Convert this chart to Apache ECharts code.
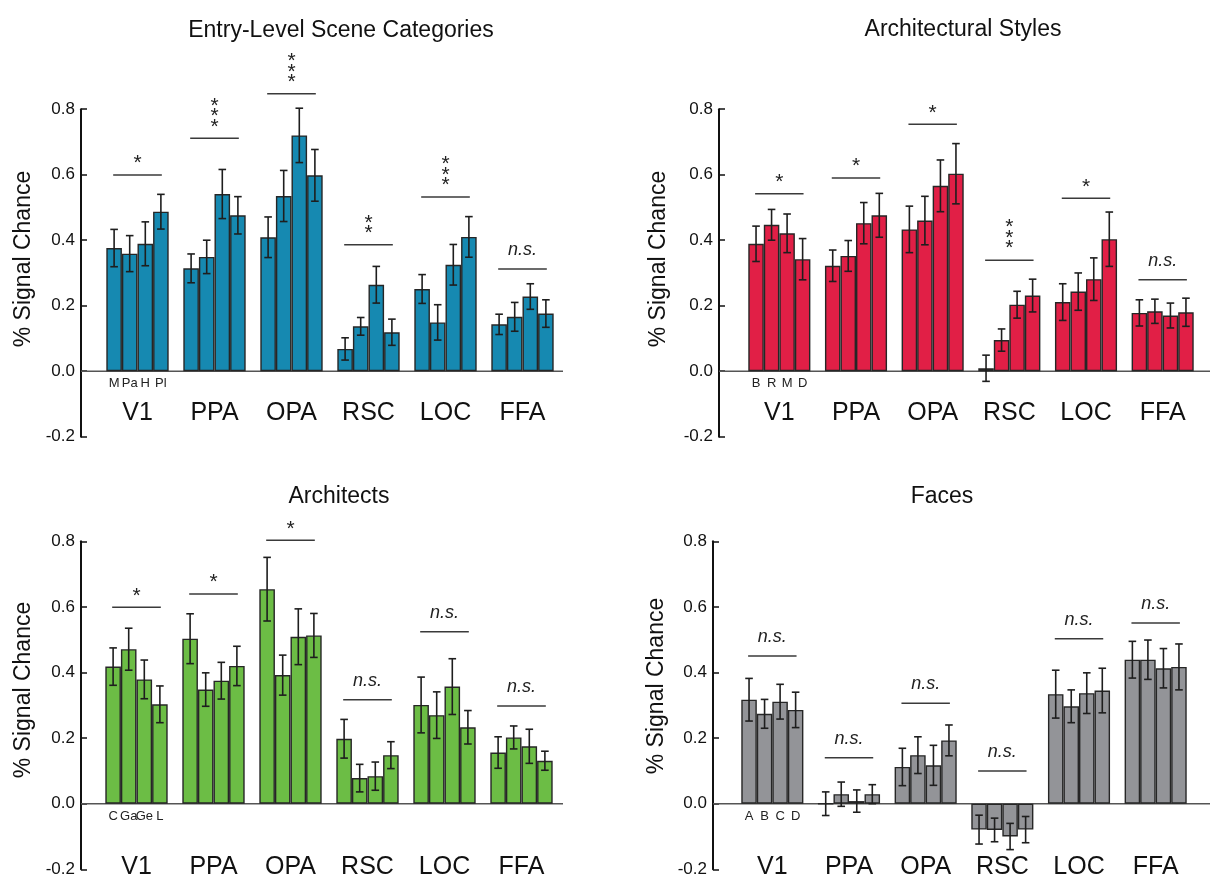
<!DOCTYPE html>
<html><head><meta charset="utf-8">
<script src="https://cdn.jsdelivr.net/npm/echarts/dist/echarts.min.js"></script>
<style>html,body{margin:0;padding:0;background:#fff}#c{width:1210px;height:881px}</style>
</head><body><div id="c"></div>
<script>
// ---------- DATA ----------
const regions = ['V1', 'PPA', 'OPA', 'RSC', 'LOC', 'FFA'];

// Panel 1: Entry-Level Scene Categories
const sceneTitle = 'Entry-Level Scene Categories';
const sceneConds = ['M', 'Pa', 'H', 'Pl'];
const sceneM  = [0.376, 0.314, 0.409, 0.068, 0.251, 0.143];
const scenePa = [0.359, 0.349, 0.535, 0.137, 0.149, 0.166];
const sceneH  = [0.389, 0.541, 0.720, 0.264, 0.325, 0.228];
const scenePl = [0.487, 0.476, 0.598, 0.119, 0.410, 0.176];
const sceneErrM  = [0.057, 0.044, 0.062, 0.034, 0.044, 0.031];
const sceneErrPa = [0.055, 0.051, 0.078, 0.027, 0.054, 0.044];
const sceneErrH  = [0.067, 0.075, 0.083, 0.056, 0.062, 0.039];
const sceneErrPl = [0.053, 0.057, 0.079, 0.040, 0.062, 0.042];
const sceneSigY = [0.599, 0.711, 0.847, 0.386, 0.532, 0.312];
const sceneSig  = ['*', '***', '***', '**', '***', 'n.s.'];

// Panel 2: Architectural Styles
const styleTitle = 'Architectural Styles';
const styleConds = ['B', 'R', 'M', 'D'];
const styleB = [0.389, 0.322, 0.433, 0.009, 0.211, 0.178];
const styleR = [0.447, 0.352, 0.460, 0.095, 0.243, 0.183];
const styleM = [0.421, 0.452, 0.566, 0.203, 0.281, 0.170];
const styleD = [0.342, 0.476, 0.603, 0.231, 0.403, 0.180];
const styleErrB = [0.054, 0.048, 0.071, 0.040, 0.056, 0.040];
const styleErrR = [0.047, 0.047, 0.074, 0.034, 0.057, 0.037];
const styleErrM = [0.059, 0.063, 0.079, 0.041, 0.065, 0.038];
const styleErrD = [0.063, 0.067, 0.092, 0.050, 0.083, 0.043];
const styleSigY = [0.542, 0.590, 0.754, 0.339, 0.528, 0.279];
const styleSig  = ['*', '*', '*', '***', '*', 'n.s.'];

// Panel 3: Architects
const archTitle = 'Architects';
const archConds = ['C', 'Ga', 'Ge', 'L'];
const archC  = [0.418, 0.503, 0.654, 0.198, 0.301, 0.156];
const archGa = [0.471, 0.348, 0.392, 0.078, 0.270, 0.202];
const archGe = [0.379, 0.375, 0.509, 0.084, 0.357, 0.175];
const archL  = [0.303, 0.420, 0.513, 0.148, 0.233, 0.131];
const archErrC  = [0.057, 0.076, 0.097, 0.059, 0.085, 0.048];
const archErrGa = [0.064, 0.051, 0.061, 0.042, 0.071, 0.035];
const archErrGe = [0.059, 0.056, 0.085, 0.043, 0.085, 0.052];
const archErrL  = [0.056, 0.060, 0.067, 0.041, 0.051, 0.029];
const archSigY = [0.599, 0.639, 0.803, 0.317, 0.524, 0.298];
const archSig  = ['*', '*', '*', 'n.s.', 'n.s.', 'n.s.'];

// Panel 4: Faces
const faceTitle = 'Faces';
const faceConds = ['A', 'B', 'C', 'D'];
const faceA = [0.317, 0.000, 0.112, -0.079, 0.334, 0.439];
const faceB = [0.274, 0.029, 0.148, -0.080, 0.297, 0.439];
const faceC = [0.311, 0.008, 0.117, -0.100, 0.337, 0.413];
const faceD = [0.286, 0.029, 0.193, -0.079, 0.345, 0.417];
const faceErrA = [0.065, 0.036, 0.057, 0.044, 0.073, 0.056];
const faceErrB = [0.044, 0.037, 0.056, 0.036, 0.050, 0.060];
const faceErrC = [0.053, 0.034, 0.061, 0.040, 0.062, 0.060];
const faceErrD = [0.054, 0.029, 0.047, 0.040, 0.068, 0.070];
const faceSigY = [0.450, 0.140, 0.306, 0.100, 0.503, 0.551];
const faceSig  = ['n.s.', 'n.s.', 'n.s.', 'n.s.', 'n.s.', 'n.s.'];

const yName = '% Signal Chance';
const yMin = -0.2, yMax = 0.8, yStep = 0.2;

// ---------- LAYOUT / STYLE ----------
const FONT = "'Liberation Sans', Arial, sans-serif";
const panels = [
  {title: sceneTitle, conds: sceneConds, vals: [sceneM, scenePa, sceneH, scenePl],
   errs: [sceneErrM, sceneErrPa, sceneErrH, sceneErrPl], sigY: sceneSigY, sig: sceneSig,
   color: '#1689b1', left: 99, top: 109.2, width: 462, height: 327.5, axisX: 81,
   lineEnd: 563, titleX: 336, titleTop: 14, nameX: 24, nameY: 259, labMargin: 29},
  {title: styleTitle, conds: styleConds, vals: [styleB, styleR, styleM, styleD],
   errs: [styleErrB, styleErrR, styleErrM, styleErrD], sigY: styleSigY, sig: styleSig,
   color: '#e11f46', left: 741, top: 109.2, width: 460, height: 327.5, axisX: 719,
   lineEnd: 1210, titleX: 958, titleTop: 13, nameX: 659, nameY: 259, labMargin: 29},
  {title: archTitle, conds: archConds, vals: [archC, archGa, archGe, archL],
   errs: [archErrC, archErrGa, archErrGe, archErrL], sigY: archSigY, sig: archSig,
   color: '#6cbd45', left: 98, top: 541.3, width: 462, height: 328, axisX: 81,
   lineEnd: 563, titleX: 334, titleTop: 480, nameX: 24, nameY: 690, labMargin: 51},
  {title: faceTitle, conds: faceConds, vals: [faceA, faceB, faceC, faceD],
   errs: [faceErrA, faceErrB, faceErrC, faceErrD], sigY: faceSigY, sig: faceSig,
   color: '#939498', left: 734, top: 541.3, width: 460, height: 328, axisX: 713,
   lineEnd: 1210, titleX: 937, titleTop: 480, nameX: 657, nameY: 686, labMargin: 51}
];
const CAT_GAP = 0.19;

const chart = echarts.init(document.getElementById('c'), null, {renderer: 'canvas'});

const option = {
  animation: false,
  backgroundColor: '#fff',
  title: [], grid: [], xAxis: [], yAxis: [], series: []
};

panels.forEach((p, k) => {
  option.title.push({
    text: p.title, left: p.titleX, top: p.titleTop, textAlign: 'center',
    textStyle: {fontFamily: FONT, fontSize: 23, fontWeight: 'normal', color: '#111'}
  });
  option.grid.push({left: p.left, top: p.top, width: p.width, height: p.height, containLabel: false});
  // move the category axis from the grid bottom up to the zero level
  const zeroOffset = -p.height * (0 - yMin) / (yMax - yMin);
  option.xAxis.push({
    type: 'category', gridIndex: k, data: regions,
    position: 'bottom', offset: zeroOffset,
    axisLine: {show: false, onZero: false},
    axisTick: {show: false},
    axisLabel: {interval: 0, fontFamily: FONT, fontSize: 25, color: '#111', margin: p.labMargin},
    splitLine: {show: false}
  });
  option.yAxis.push({
    type: 'value', gridIndex: k, min: yMin, max: yMax, interval: yStep,
    offset: p.left - p.axisX,
    axisLine: {show: true, lineStyle: {color: '#111', width: 2}},
    axisTick: {show: true, inside: true, length: 6, lineStyle: {color: '#111', width: 1.5}},
    axisLabel: {fontFamily: FONT, fontSize: 17, color: '#111', margin: 6,
      formatter: v => v.toFixed(1)},
    splitLine: {show: false}
  });
  // bars
  p.vals.forEach((arr, c) => {
    option.series.push({
      type: 'bar', xAxisIndex: k, yAxisIndex: k,
      barGap: '0%', barCategoryGap: (CAT_GAP * 100) + '%',
      itemStyle: {color: p.color, borderColor: '#262626', borderWidth: 1.4},
      z: 2,
      data: arr.map((v, i) => i === 0 ? {
        value: v,
        label: {show: true, position: 'bottom', distance: 6, formatter: p.conds[c],
          fontFamily: FONT, fontSize: 13, color: '#222'}
      } : v)
    });
  });
  // error bars
  const errData = [];
  p.vals.forEach((arr, c) => arr.forEach((v, i) => errData.push([i, v, p.errs[c][i], c])));
  option.series.push({
    type: 'custom', xAxisIndex: k, yAxisIndex: k, z: 5,
    data: errData,
    encode: {x: 0, y: 1},
    renderItem: (params, api) => {
      const ci = api.value(0), v = api.value(1), e = api.value(2), c = api.value(3);
      const band = api.size([1, 0])[0];
      const bw = band * (1 - CAT_GAP) / 4;
      const cx = api.coord([ci, 0])[0] + (c - 1.5) * bw;
      const yt = api.coord([ci, v + e])[1], yb = api.coord([ci, v - e])[1];
      const cap = 3.8;
      const st = {stroke: '#1e1e1e', lineWidth: 1.6};
      return {type: 'group', children: [
        {type: 'line', shape: {x1: cx, y1: yt, x2: cx, y2: yb}, style: st},
        {type: 'line', shape: {x1: cx - cap, y1: yt, x2: cx + cap, y2: yt}, style: st},
        {type: 'line', shape: {x1: cx - cap, y1: yb, x2: cx + cap, y2: yb}, style: st}
      ]};
    }
  });
  // significance lines
  const sigLabels = p.sig;
  option.series.push({
    type: 'custom', xAxisIndex: k, yAxisIndex: k, z: 5,
    data: p.sigY.map((h, i) => [i, h]),
    encode: {x: 0, y: 1},
    renderItem: (params, api) => {
      const ci = api.value(0), h = api.value(1);
      const band = api.size([1, 0])[0];
      const half = band * (1 - CAT_GAP) * 0.39;
      const [cx, y] = api.coord([ci, h]);
      const lab = sigLabels[params.dataIndex];
      const children = [{type: 'line', shape: {x1: cx - half, y1: y, x2: cx + half, y2: y},
        style: {stroke: '#3a3a3a', lineWidth: 1.5}}];
      if (lab === 'n.s.') {
        children.push({type: 'text', x: cx, y: y - 19, style: {text: 'n.s.', fontFamily: FONT,
          fontSize: 18, fontStyle: 'italic', fill: '#222', align: 'center', verticalAlign: 'middle'}});
      } else {
        for (let j = 0; j < lab.length; j++) {
          children.push({type: 'text', x: cx, y: y - 11.5 - j * 10.5, style: {text: '*', fontFamily: FONT,
            fontSize: 21, fill: '#222', align: 'center', verticalAlign: 'middle'}});
        }
      }
      return {type: 'group', children};
    }
  });
});

chart.setOption(option);

// axis names and zero lines (positions taken from the library's scales)
const graphics = [];
panels.forEach((p, k) => {
  const zy = chart.convertToPixel({yAxisIndex: k}, 0);
  graphics.push({type: 'line', z: 1, shape: {x1: p.axisX, y1: zy, x2: p.lineEnd, y2: zy},
    style: {stroke: '#555', lineWidth: 1.6}});
  graphics.push({type: 'text', x: p.nameX, y: p.nameY, rotation: Math.PI / 2,
    style: {text: yName, fontFamily: FONT, fontSize: 23, fill: '#111', align: 'center', verticalAlign: 'middle'}});
});
chart.setOption({graphic: graphics});
</script>
</body></html>
